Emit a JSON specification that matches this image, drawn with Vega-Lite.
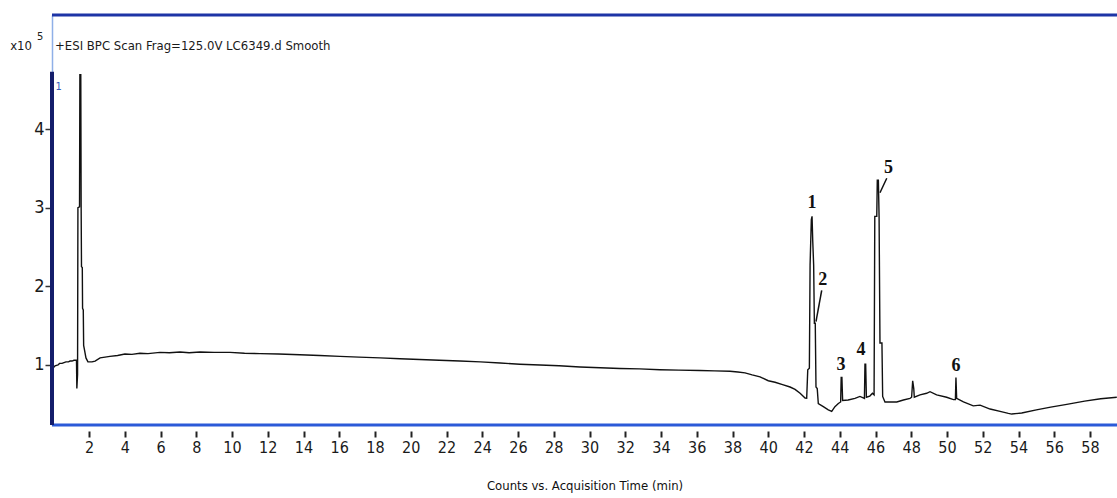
{
  "$schema": "https://vega.github.io/schema/vega-lite/v6.json",
  "width": 1065,
  "height": 410,
  "autosize": "none",
  "padding": {"left": 52, "top": 15, "right": 0, "bottom": 73},
  "background": "white",
  "config": {"view": {"stroke": null}, "axis": {"grid": false}},
  "datasets": {
    "trace": [
      {"t":-0.07,"v":0.36},{"t":-0.05,"v":0.62},{"t":-0.01,"v":0.96},{"t":0.1,"v":0.99},{"t":0.27,"v":1.0},{"t":0.35,"v":1.02},{"t":0.49,"v":1.02},{"t":0.6,"v":1.03},{"t":0.71,"v":1.04},{"t":0.85,"v":1.04},{"t":0.94,"v":1.05},{"t":1.05,"v":1.05},{"t":1.16,"v":1.06},{"t":1.3,"v":1.06},{"t":1.32,"v":0.7},{"t":1.36,"v":0.88},{"t":1.38,"v":3.0},{"t":1.47,"v":3.01},{"t":1.49,"v":4.69},{"t":1.54,"v":4.69},{"t":1.56,"v":3.03},{"t":1.58,"v":2.25},{"t":1.625,"v":2.24},{"t":1.64,"v":1.72},{"t":1.68,"v":1.7},{"t":1.7,"v":1.25},{"t":1.75,"v":1.19},{"t":1.83,"v":1.09},{"t":1.94,"v":1.04},{"t":2.17,"v":1.04},{"t":2.34,"v":1.05},{"t":2.62,"v":1.09},{"t":2.9,"v":1.1},{"t":3.17,"v":1.11},{"t":3.6,"v":1.12},{"t":4.01,"v":1.14},{"t":4.4,"v":1.135},{"t":4.85,"v":1.15},{"t":5.3,"v":1.145},{"t":5.97,"v":1.16},{"t":6.5,"v":1.155},{"t":7.09,"v":1.165},{"t":7.6,"v":1.155},{"t":8.21,"v":1.165},{"t":9.0,"v":1.16},{"t":9.89,"v":1.16},{"t":10.7,"v":1.15},{"t":11.57,"v":1.145},{"t":12.6,"v":1.14},{"t":13.8,"v":1.13},{"t":14.9,"v":1.12},{"t":16.04,"v":1.11},{"t":17.1,"v":1.1},{"t":18.28,"v":1.09},{"t":19.4,"v":1.08},{"t":20.5,"v":1.07},{"t":21.6,"v":1.06},{"t":22.75,"v":1.05},{"t":23.9,"v":1.04},{"t":25.0,"v":1.025},{"t":26.1,"v":1.01},{"t":27.23,"v":1.0},{"t":28.3,"v":0.99},{"t":29.47,"v":0.975},{"t":30.6,"v":0.965},{"t":31.7,"v":0.955},{"t":32.8,"v":0.95},{"t":33.94,"v":0.94},{"t":35.0,"v":0.935},{"t":36.18,"v":0.93},{"t":37.0,"v":0.925},{"t":37.86,"v":0.92},{"t":38.3,"v":0.91},{"t":38.7,"v":0.9},{"t":39.1,"v":0.875},{"t":39.54,"v":0.85},{"t":40.0,"v":0.8},{"t":40.38,"v":0.78},{"t":40.8,"v":0.75},{"t":41.22,"v":0.72},{"t":41.5,"v":0.69},{"t":41.78,"v":0.64},{"t":42.06,"v":0.58},{"t":42.15,"v":0.578},{"t":42.21,"v":0.94},{"t":42.3,"v":0.96},{"t":42.34,"v":2.27},{"t":42.41,"v":2.85},{"t":42.45,"v":2.89},{"t":42.49,"v":2.57},{"t":42.54,"v":2.27},{"t":42.58,"v":1.53},{"t":42.63,"v":1.53},{"t":42.67,"v":0.72},{"t":42.74,"v":0.7},{"t":42.8,"v":0.51},{"t":43.08,"v":0.47},{"t":43.36,"v":0.43},{"t":43.55,"v":0.41},{"t":43.73,"v":0.47},{"t":43.92,"v":0.51},{"t":44.05,"v":0.53},{"t":44.08,"v":0.84},{"t":44.12,"v":0.84},{"t":44.16,"v":0.55},{"t":44.47,"v":0.555},{"t":44.85,"v":0.576},{"t":45.13,"v":0.6},{"t":45.38,"v":0.576},{"t":45.41,"v":1.01},{"t":45.45,"v":1.01},{"t":45.49,"v":0.59},{"t":45.68,"v":0.605},{"t":45.83,"v":0.64},{"t":45.92,"v":0.62},{"t":45.96,"v":2.89},{"t":46.07,"v":2.89},{"t":46.1,"v":3.35},{"t":46.16,"v":3.35},{"t":46.2,"v":2.89},{"t":46.25,"v":1.28},{"t":46.36,"v":1.28},{"t":46.4,"v":0.6},{"t":46.53,"v":0.53},{"t":47.19,"v":0.53},{"t":47.56,"v":0.555},{"t":47.93,"v":0.576},{"t":48.02,"v":0.59},{"t":48.08,"v":0.8},{"t":48.14,"v":0.7},{"t":48.17,"v":0.59},{"t":48.49,"v":0.62},{"t":48.86,"v":0.64},{"t":49.05,"v":0.66},{"t":49.42,"v":0.62},{"t":49.98,"v":0.59},{"t":50.36,"v":0.56},{"t":50.47,"v":0.56},{"t":50.5,"v":0.84},{"t":50.54,"v":0.576},{"t":50.92,"v":0.53},{"t":51.47,"v":0.48},{"t":51.85,"v":0.49},{"t":52.41,"v":0.44},{"t":52.97,"v":0.41},{"t":53.43,"v":0.385},{"t":53.62,"v":0.376},{"t":54.18,"v":0.39},{"t":55.0,"v":0.43},{"t":55.8,"v":0.465},{"t":56.7,"v":0.5},{"t":57.7,"v":0.54},{"t":58.6,"v":0.57},{"t":59.5,"v":0.59}
    ],
    "labels": [
      {"t":42.45,"v":3.06,"label":"1"},{"t":43.05,"v":2.08,"label":"2"},{"t":44.07,"v":1.0,"label":"3"},{"t":45.19,"v":1.19,"label":"4"},{"t":46.72,"v":3.51,"label":"5"},{"t":50.5,"v":0.99,"label":"6"}
    ],
    "leaders": [
      {"t":42.99,"v":1.95,"t2":42.67,"v2":1.55},{"t":46.63,"v":3.375,"t2":46.25,"v2":3.19}
    ],
    "frame": [{"top":5.45,"bottom":0.237,"left":-0.07,"navytop":4.73}],
    "header": [{"t":0.1,"v":5.05,"label":"+ESI BPC Scan Frag=125.0V LC6349.d  Smooth"}],
    "mult": [{"t":-1.19,"v":5.05,"label":"x10"}],
    "expo": [{"t":-0.74,"v":5.17,"label":"5"}],
    "marker": [{"t":0.3,"v":4.54,"label":"1"}]
  },
  "layer": [
    {
      "data": {"name": "trace"},
      "mark": {"type": "line", "color": "#111111", "strokeWidth": 1.4, "clip": true},
      "encoding": {
        "x": {"field": "t", "type": "quantitative",
          "scale": {"domain": [-0.07, 59.51], "nice": false, "zero": false},
          "axis": {"values": [2,4,6,8,10,12,14,16,18,20,22,24,26,28,30,32,34,36,38,40,42,44,46,48,50,52,54,56,58],
            "tickCount": 60, "format": "d", "labelOverlap": false, "labelFlush": false,
            "title": "Counts vs. Acquisition Time (min)", "offset": 6, "domain": false,
            "tickSize": 6, "tickWidth": 2, "tickColor": "#222222",
            "labelFont": "DejaVu Sans Condensed, sans-serif", "labelFontSize": 16, "labelColor": "#1a1a1a", "labelPadding": 2,
            "titleFont": "DejaVu Sans Condensed, sans-serif", "titleFontSize": 13, "titleFontWeight": "normal", "titleColor": "#111111", "titlePadding": 24}},
        "y": {"field": "v", "type": "quantitative",
          "scale": {"domain": [0.237, 5.45], "nice": false, "zero": false},
          "axis": {"values": [1,2,3,4], "tickCount": 10, "format": "d", "labelOverlap": false, "title": null, "domainColor": "#8fb0e8", "domainWidth": 1.5,
            "tickColor": "#333333", "tickSize": 7, "tickWidth": 1.5,
            "labelFont": "DejaVu Sans Condensed, sans-serif", "labelFontSize": 18, "labelColor": "#1a1a1a", "labelPadding": 1}}
      }
    },
    {
      "data": {"name": "frame"},
      "mark": {"type": "rule", "color": "#1d34a6", "strokeWidth": 3},
      "encoding": {"y": {"field": "top", "type": "quantitative"}}
    },
    {
      "data": {"name": "frame"},
      "mark": {"type": "rule", "color": "#2b5ad8", "strokeWidth": 3},
      "encoding": {"y": {"field": "bottom", "type": "quantitative"}}
    },
    {
      "data": {"name": "frame"},
      "mark": {"type": "rule", "color": "#141d6b", "strokeWidth": 4},
      "encoding": {
        "x": {"field": "left", "type": "quantitative"},
        "y": {"field": "bottom", "type": "quantitative"},
        "y2": {"field": "navytop"}
      }
    },
    {
      "data": {"name": "leaders"},
      "mark": {"type": "rule", "color": "#111111", "strokeWidth": 1.5},
      "encoding": {
        "x": {"field": "t", "type": "quantitative"},
        "y": {"field": "v", "type": "quantitative"},
        "x2": {"field": "t2"},
        "y2": {"field": "v2"}
      }
    },
    {
      "data": {"name": "labels"},
      "mark": {"type": "text", "font": "Liberation Serif, DejaVu Serif, serif", "fontWeight": "bold", "fontSize": 18, "color": "#111111", "baseline": "middle", "align": "center"},
      "encoding": {
        "x": {"field": "t", "type": "quantitative"},
        "y": {"field": "v", "type": "quantitative"},
        "text": {"field": "label"}
      }
    },
    {
      "data": {"name": "header"},
      "mark": {"type": "text", "font": "DejaVu Sans Condensed, sans-serif", "fontSize": 13, "color": "#1a1a1a", "baseline": "middle", "align": "left"},
      "encoding": {
        "x": {"field": "t", "type": "quantitative"},
        "y": {"field": "v", "type": "quantitative"},
        "text": {"field": "label"}
      }
    },
    {
      "data": {"name": "mult"},
      "mark": {"type": "text", "font": "DejaVu Sans Condensed, sans-serif", "fontSize": 13, "color": "#1a1a1a", "baseline": "middle", "align": "right"},
      "encoding": {
        "x": {"field": "t", "type": "quantitative"},
        "y": {"field": "v", "type": "quantitative"},
        "text": {"field": "label"}
      }
    },
    {
      "data": {"name": "expo"},
      "mark": {"type": "text", "font": "DejaVu Sans Condensed, sans-serif", "fontSize": 11, "color": "#222222", "baseline": "middle", "align": "center"},
      "encoding": {
        "x": {"field": "t", "type": "quantitative"},
        "y": {"field": "v", "type": "quantitative"},
        "text": {"field": "label"}
      }
    },
    {
      "data": {"name": "marker"},
      "mark": {"type": "text", "font": "DejaVu Sans Condensed, sans-serif", "fontSize": 11, "color": "#3a5fc0", "baseline": "middle", "align": "center"},
      "encoding": {
        "x": {"field": "t", "type": "quantitative"},
        "y": {"field": "v", "type": "quantitative"},
        "text": {"field": "label"}
      }
    }
  ]
}
